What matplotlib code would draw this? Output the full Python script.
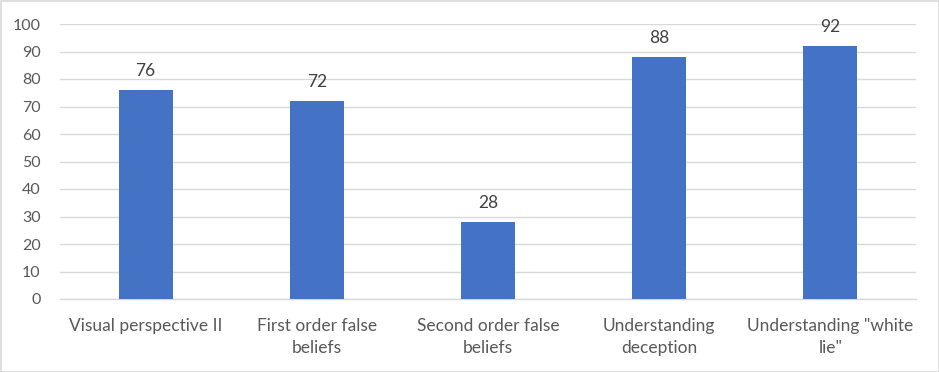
import matplotlib.pyplot as plt
from matplotlib.patches import Rectangle

categories = ["Visual perspective II", "First order false\nbeliefs",
              "Second order false\nbeliefs", "Understanding\ndeception",
              "Understanding \"white\nlie\""]
values = [76, 72, 28, 88, 92]

plt.rcParams['font.family'] = ['Lato', 'DejaVu Sans']
txt = '#595959'
grid = '#D9D9D9'

fig = plt.figure(figsize=(9.39, 3.72), dpi=100)
ax = fig.add_axes([60/939, 1-299/372, 856/939, 275/372])

x = range(len(values))
bars = ax.bar(x, values, width=0.316, color='#4472C4', zorder=3)
for b, v in zip(bars, values):
    ax.text(b.get_x() + b.get_width()/2, v + 4, str(v), ha='center', va='bottom',
            fontsize=12.5, color='#404040')

ax.set_xlim(-0.5, len(values) - 0.5)
ax.set_ylim(0, 100)
ax.set_yticks(range(0, 101, 10))
ax.set_xticks(list(x))
ax.set_xticklabels(categories, fontsize=12.5, color=txt, linespacing=1.4)
ax.tick_params(axis='y', labelsize=11.5, labelcolor=txt, length=0, pad=14)
ax.tick_params(axis='x', length=0, pad=14)
ax.yaxis.grid(True, color=grid, linewidth=1, zorder=0)
for s in ['top', 'right', 'left']:
    ax.spines[s].set_visible(False)
ax.spines['bottom'].set_color(grid)
ax.spines['bottom'].set_linewidth(1)

fig.patches.append(Rectangle((0.5/939, 0.5/372), 1-1/939, 1-1/372, transform=fig.transFigure,
                             fill=False, edgecolor=grid, linewidth=1.2))

fig.savefig('out.png', dpi=100)
